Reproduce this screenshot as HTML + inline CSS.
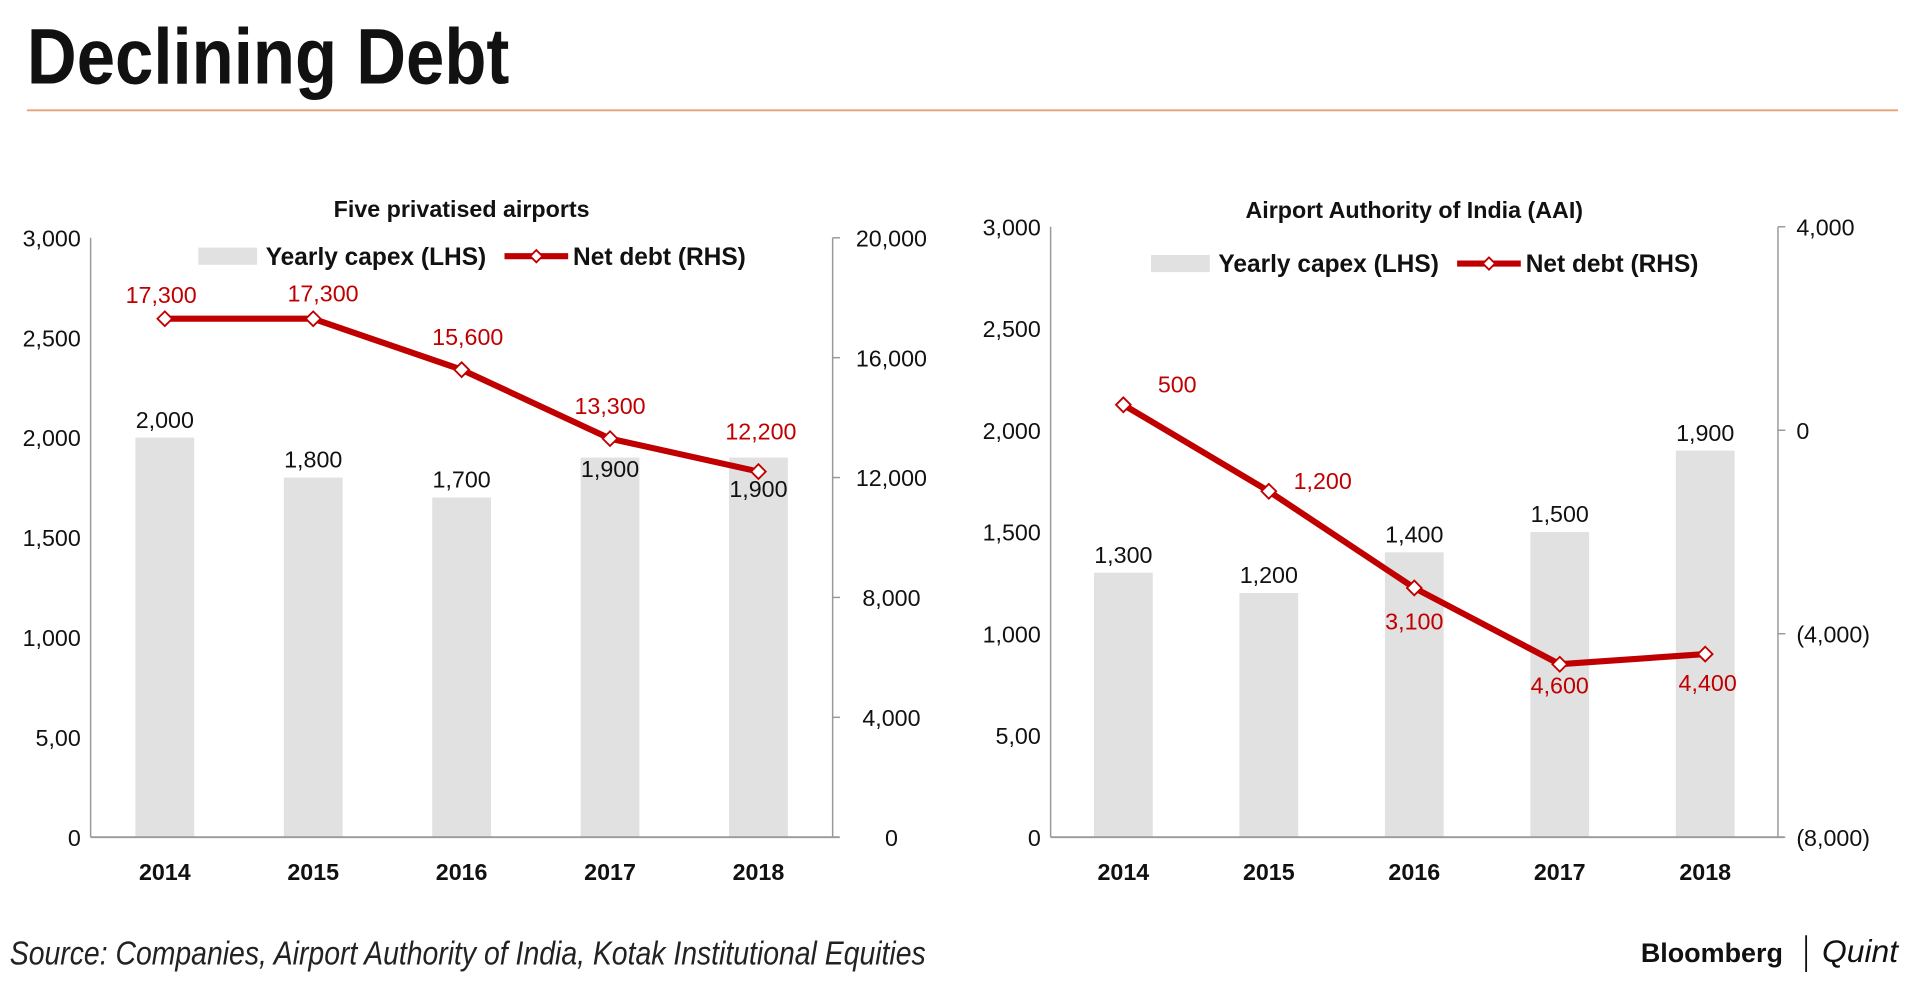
<!DOCTYPE html>
<html><head><meta charset="utf-8"><style>
html,body{margin:0;padding:0;background:#fff;width:1920px;height:999px;overflow:hidden}
svg{display:block}
text{font-family:"Liberation Sans Narrow","Liberation Sans",sans-serif}
</style></head><body>
<svg id="svg" width="1920" height="999" viewBox="0 0 1568 815" preserveAspectRatio="none">
<text x="22" y="68" font-size="64" font-weight="bold" fill="#111" textLength="394" lengthAdjust="spacingAndGlyphs">Declining Debt</text>
<line x1="22" y1="90" x2="1550" y2="90" stroke="#e6a07a" stroke-width="1.5"/>
<g id="c1"></g>
<g id="c2"></g>
<text x="8" y="787" font-size="27" font-style="italic" fill="#222" textLength="748" lengthAdjust="spacingAndGlyphs">Source: Companies, Airport Authority of India, Kotak Institutional Equities</text>
<text x="1340" y="785" font-size="22" font-weight="bold" fill="#111">Bloomberg</text>
<line x1="1475" y1="763" x2="1475" y2="793" stroke="#111" stroke-width="1.5"/>
<text x="1488" y="785" font-size="26" font-style="italic" font-family="Liberation Serif,serif" fill="#111">Quint</text>
</svg>
<script>
const years = ["2014","2015","2016","2017","2018"];
const capex1 = [2000,1800,1700,1900,1900];
const debt1 = [17300,17300,15600,13300,12200];
const capex2 = [1300,1200,1400,1500,1900];
const debt2 = [500,-1200,-3100,-4600,-4400];
const leftTicks = [0,500,1000,1500,2000,2500,3000];
const leftTickLabels = ["0","5,00","1,000","1,500","2,000","2,500","3,000"];
const rightTicks1 = [0,4000,8000,12000,16000,20000];
const rightTickLabels1 = ["0","4,000","8,000","12,000","16,000","20,000"];
const rightTicks2 = [-8000,-4000,0,4000];
const rightTickLabels2 = ["(8,000)","(4,000)","0","4,000"];
const NS="http://www.w3.org/2000/svg";
function mk(parent,tag,attrs,txt){const e=document.createElementNS(NS,tag);for(const k in attrs)e.setAttribute(k,attrs[k]);if(txt!==undefined)e.textContent=txt;parent.appendChild(e);return e;}
function fmt(v){return Math.abs(v).toLocaleString('en-US');}
function draw(g,cfg){
  const {x0,x1,yTop,yBot,rMin,rMax,capex,debt,rTicks,rLabels,title,titleY,legY,rLabX,rAnchor,debtLabelPos,capexLabelDy}=cfg;
  const n=years.length, step=(x1-x0)/n;
  const xs=i=>x0+step*(i+0.5);
  const yL=v=>yBot-(v/3000)*(yBot-yTop);
  const yR=v=>yBot-((v-rMin)/(rMax-rMin))*(yBot-yTop);
  let t=mk(g,'text',{x:(x0+x1)/2,y:titleY,'font-size':19,'font-weight':'bold','text-anchor':'middle',fill:'#111'},title);
  
  capex.forEach((v,i)=>{
    const r=mk(g,'rect',{x:xs(i)-24,y:yL(v),width:48,height:yBot-yL(v),fill:'#e1e1e1'});
    
    const l=mk(g,'text',{x:xs(i),y:yL(v)-8+(capexLabelDy[i]||0),'font-size':19,'text-anchor':'middle',fill:'#111'},fmt(v));
    
  });
  let a=mk(g,'line',{x1:x0,y1:yTop,x2:x0,y2:yBot,stroke:'#999','stroke-width':1.2});
  
  a=mk(g,'line',{x1:x1,y1:yTop,x2:x1,y2:yBot,stroke:'#999','stroke-width':1.2});
  
  a=mk(g,'line',{x1:x0,y1:yBot,x2:x1+5,y2:yBot,stroke:'#999','stroke-width':1.5});
  
  leftTicks.forEach((v,i)=>{
    const l=mk(g,'text',{x:x0-8,y:yL(v)+7,'font-size':19,'text-anchor':'end',fill:'#111'},leftTickLabels[i]);
    
  });
  rTicks.forEach((v,i)=>{
    mk(g,'line',{x1:x1,y1:yR(v),x2:x1+6,y2:yR(v),stroke:'#999','stroke-width':1.2});
    const l=mk(g,'text',{x:x1+rLabX,y:yR(v)+7,'font-size':19,'text-anchor':rAnchor,fill:'#111'},rLabels[i]);
    
  });
  years.forEach((y,i)=>{
    const l=mk(g,'text',{x:xs(i),y:yBot+35,'font-size':19,'font-weight':'bold','text-anchor':'middle',fill:'#111'},y);
    
  });
  const pts=debt.map((v,i)=>xs(i)+','+yR(v)).join(' ');
  const pl=mk(g,'polyline',{points:pts,fill:'none',stroke:'#c00000','stroke-width':5,'stroke-linejoin':'round'});
  
  debt.forEach((v,i)=>{
    const cx=xs(i),cy=yR(v);
    const d=mk(g,'polygon',{points:`${cx},${cy-6} ${cx+6},${cy} ${cx},${cy+6} ${cx-6},${cy}`,fill:'#fff',stroke:'#c00000','stroke-width':1.5});
    
    const p=debtLabelPos[i];
    const l=mk(g,'text',{x:cx+p[0],y:cy+p[1],'font-size':19,'text-anchor':'middle',fill:'#c00000'},fmt(v));
    
  });
  const lx=(x0+x1)/2-215;
  let r=mk(g,'rect',{x:lx,y:legY-7,width:48,height:14,fill:'#e1e1e1'});
  
  let l=mk(g,'text',{x:lx+55,y:legY+7,'font-size':20,'font-weight':'bold',fill:'#111'},'Yearly capex (LHS)');
  
  mk(g,'line',{x1:lx+250,y1:legY,x2:lx+302,y2:legY,stroke:'#c00000','stroke-width':5});
  const cx=lx+276;
  mk(g,'polygon',{points:`${cx},${legY-5} ${cx+5},${legY} ${cx},${legY+5} ${cx-5},${legY}`,fill:'#fff',stroke:'#c00000','stroke-width':1.5});
  l=mk(g,'text',{x:lx+306,y:legY+7,'font-size':20,'font-weight':'bold',fill:'#111'},'Net debt (RHS)');
  
}
draw(document.getElementById('c1'),{x0:74,x1:680,yTop:194,yBot:683,rMin:0,rMax:20000,capex:capex1,debt:debt1,
  rTicks:rightTicks1,rLabels:rightTickLabels1,title:'Five privatised  airports',titleY:177,legY:209,rLabX:48,rAnchor:'middle',
  debtLabelPos:[[-3,-13],[8,-14],[5,-20],[0,-20],[2,-26]],capexLabelDy:[0,0,0,24,40]});
draw(document.getElementById('c2'),{x0:858,x1:1452,yTop:185,yBot:683,rMin:-8000,rMax:4000,capex:capex2,debt:debt2,
  rTicks:rightTicks2,rLabels:rightTickLabels2,title:'Airport  Authority  of India (AAI)',titleY:178,legY:215,rLabX:15,rAnchor:'start',
  debtLabelPos:[[44,-10],[44,-2],[0,34],[0,24],[2,30]],capexLabelDy:[0,0,0,0,0]});
</script>
</body></html>
